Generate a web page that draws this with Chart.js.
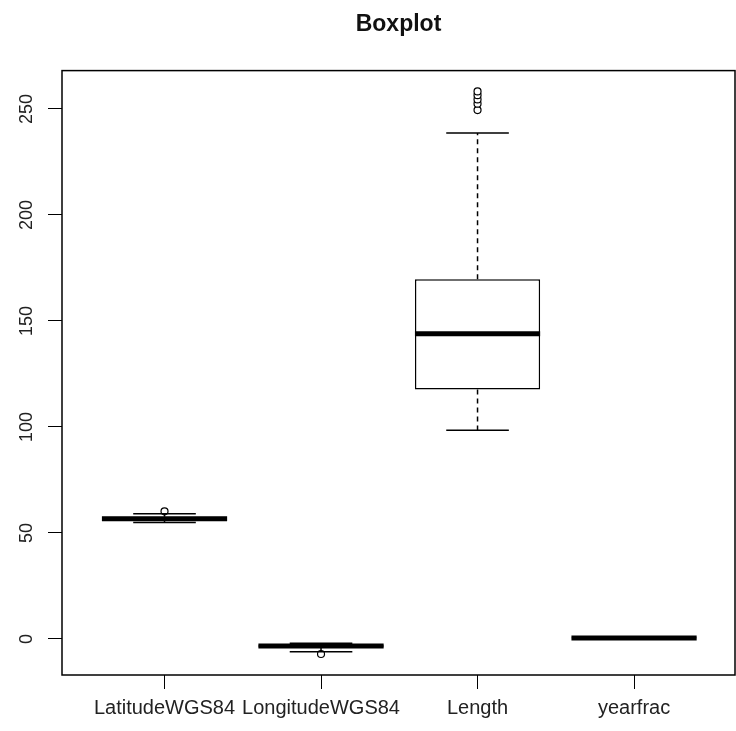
<!DOCTYPE html>
<html>
<head>
<meta charset="utf-8">
<title>Boxplot</title>
<script src="https://cdn.jsdelivr.net/npm/chart.js@4"></script>
<style>
  html, body { margin: 0; padding: 0; background: #fff; }
  canvas { display: block; }
</style>
</head>
<body>
<canvas id="boxChart" width="736" height="731"></canvas>
<script>
const categories = ['LatitudeWGS84', 'LongitudeWGS84', 'Length', 'yearfrac'];
const whiskerLow = [54.9, -6.0, 98.5, 0.0];
const q1 = [55.6, -4.0, 117.7, 0.25];
const median = [56.7, -3.3, 144.0, 0.5];
const q3 = [57.6, -2.6, 169.7, 0.75];
const whiskerHigh = [59.1, -2.0, 238.7, 1.0];
const outliers = [[60.2], [-7.1], [249.5, 252.5, 254.5, 256.5, 258.3], []];
const yTicks = [0, 50, 100, 150, 200, 250];

const FONT = "'Liberation Sans', Arial, sans-serif";

const boxData = categories.map((c, i) => ({ x: i + 1, y: [q1[i], q3[i]] }));
const outlierData = [];
outliers.forEach((list, i) => list.forEach(v => outlierData.push({ x: i + 1, y: v })));

// medians, whiskers, staples, frame and rotated y labels
const boxExtras = {
  id: 'boxExtras',
  afterDatasetsDraw(chart) {
    const { ctx, chartArea, scales: { x, y } } = chart;
    ctx.save();
    ctx.strokeStyle = '#000';
    categories.forEach((c, i) => {
      const cx = x.getPixelForValue(i + 1);
      const halfStaple = x.getPixelForValue(i + 1.2) - cx;
      const halfBox = x.getPixelForValue(i + 1.4) - cx;

      // whiskers
      ctx.lineWidth = 1.5;
      ctx.setLineDash([5, 4]);
      ctx.beginPath();
      ctx.moveTo(cx, y.getPixelForValue(q3[i]));
      ctx.lineTo(cx, y.getPixelForValue(whiskerHigh[i]));
      ctx.moveTo(cx, y.getPixelForValue(q1[i]));
      ctx.lineTo(cx, y.getPixelForValue(whiskerLow[i]));
      ctx.stroke();
      ctx.setLineDash([]);

      // staples
      ctx.beginPath();
      [whiskerHigh[i], whiskerLow[i]].forEach(v => {
        const py = y.getPixelForValue(v);
        ctx.moveTo(cx - halfStaple, py);
        ctx.lineTo(cx + halfStaple, py);
      });
      ctx.stroke();

      // median
      ctx.lineWidth = 5;
      ctx.beginPath();
      const my = y.getPixelForValue(median[i]);
      ctx.moveTo(cx - halfBox, my);
      ctx.lineTo(cx + halfBox, my);
      ctx.stroke();
    });

    // frame
    ctx.lineWidth = 1.5;
    ctx.strokeRect(chartArea.left, chartArea.top, chartArea.right - chartArea.left, chartArea.bottom - chartArea.top);

    // y labels, rotated like R's las=0
    ctx.fillStyle = '#222';
    ctx.font = '18px ' + FONT;
    ctx.textAlign = 'center';
    ctx.textBaseline = 'middle';
    yTicks.forEach(v => {
      ctx.save();
      ctx.translate(27, y.getPixelForValue(v));
      ctx.rotate(-Math.PI / 2);
      ctx.fillText(String(v), 0, 0);
      ctx.restore();
    });
    ctx.restore();
  }
};

new Chart(document.getElementById('boxChart'), {
  type: 'bar',
  data: {
    datasets: [
      {
        type: 'bar',
        data: boxData,
        backgroundColor: '#fff',
        borderColor: '#000',
        borderWidth: 1.5,
        borderSkipped: false,
        categoryPercentage: 0.8,
        barPercentage: 1.0
      },
      {
        type: 'scatter',
        data: outlierData,
        pointStyle: 'circle',
        pointRadius: 3.5,
        pointBackgroundColor: '#fff',
        pointBorderColor: '#000',
        pointBorderWidth: 1.2
      }
    ]
  },
  options: {
    responsive: false,
    animation: false,
    layout: { autoPadding: false, padding: { right: 1 } },
    plugins: {
      legend: { display: false },
      tooltip: { enabled: false },
      title: {
        display: true,
        text: 'Boxplot',
        fullSize: false,
        color: '#111',
        font: { family: FONT, size: 23, weight: 'bold' },
        padding: { top: 11, bottom: 32 }
      }
    },
    scales: {
      x: {
        type: 'linear',
        offset: false,
        min: 0.345,
        max: 4.645,
        afterFit: s => { s.height = 56; s.paddingLeft = 0; s.paddingRight = 0; },
        border: { display: false },
        grid: { drawOnChartArea: false, drawTicks: true, tickLength: 14, color: '#000', offset: false },
        afterBuildTicks: s => { s.ticks = categories.map((c, i) => ({ value: i + 1 })); },
        ticks: {
          includeBounds: false,
          stepSize: 1,
          autoSkip: false,
          maxRotation: 0,
          padding: 7,
          color: '#222',
          font: { family: FONT, size: 20 },
          callback: v => categories[v - 1] || ''
        }
      },
      y: {
        type: 'linear',
        min: -17.0,
        max: 268.1,
        afterFit: s => { s.width = 62; },
        border: { display: false },
        grid: { drawOnChartArea: false, drawTicks: true, tickLength: 14, color: '#000' },
        afterBuildTicks: s => { s.ticks = yTicks.map(v => ({ value: v })); },
        ticks: {
          includeBounds: false,
          display: true,
          color: 'rgba(0,0,0,0)',
          font: { family: FONT, size: 18 }
        }
      }
    }
  },
  plugins: [boxExtras]
});
</script>
</body>
</html>
